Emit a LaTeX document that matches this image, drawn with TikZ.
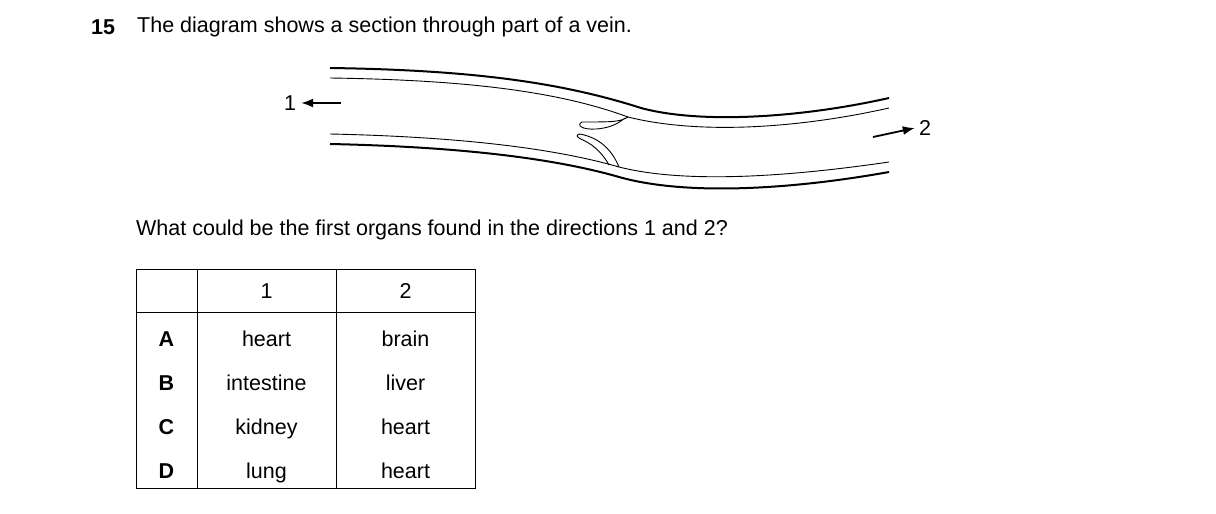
\documentclass[tikz,border=0pt]{standalone}
\usepackage{fontspec}
\setmainfont{Liberation Sans}
\usetikzlibrary{arrows.meta}
\begin{document}
\begin{tikzpicture}[x=1pt,y=-1pt,
  txt/.style={font=\fontsize{21.5}{24}\selectfont,inner sep=0pt},
  outer/.style={line width=2pt},
  inner/.style={line width=0.9pt},
  arr/.style={line width=1.8pt,-{Latex[length=12pt,width=9pt]}}]
\useasboundingbox (0,0) rectangle (1216,514);
\node[txt,anchor=west,font=\fontsize{21.5}{24}\selectfont\bfseries] (num) at (91,27) {15};
\node[txt,anchor=west] (q1) at (137,27) {The diagram shows a section through part of a vein.};
% vein walls
\draw[outer] (330,68) .. controls (470,70) and (560,82) .. (641,108) .. controls (700,124) and (800,118) .. (889,98);
\draw[inner] (330,78) .. controls (470,80) and (560,92) .. (628,117) .. controls (700,135) and (800,128) .. (889,108);
\draw[inner] (330,134) .. controls (470,137) and (560,150) .. (619,167) .. controls (690,185) and (800,175) .. (889,162);
\draw[outer] (330,144) .. controls (470,147) and (560,160) .. (619,177) .. controls (690,197) and (800,188) .. (889,172);
% valve flaps
\draw[inner] (628,117) .. controls (620,122) and (612,122) .. (582,122) .. controls (576,125) and (582,130) .. (596,129) .. controls (612,128) and (620,122) .. (625,118);
\draw[inner] (619,167) .. controls (612,150) and (600,138) .. (580,134) .. controls (574,135) and (578,138) .. (583,140) .. controls (596,146) and (604,156) .. (609,165);
% arrows
\node[txt] (l1) at (290,103) {1};
\coordinate (a1s) at (341,103);
\draw[arr] (a1s) -- ([xshift=5pt]l1.east);
\node[txt] (l2) at (925,128) {2};
\coordinate (a2s) at (873,137);
\draw[arr] (a2s) -- ([xshift=-4pt]l2.west);
\node[txt,anchor=west] (q2) at (136,230) {What could be the first organs found in the directions 1 and 2?};
% table
\draw[line width=0.9pt] (136,269) rectangle (475,488);
\draw[line width=0.9pt] (197,269) -- (197,488) (336,269) -- (336,488) (136,312) -- (475,312);
\node[txt] (h1) at (266.5,291) {1};
\node[txt] (h2) at (405.5,291) {2};
\foreach \l/\a/\b [count=\i] in {A/heart/brain,B/intestine/liver,C/kidney/heart,D/lung/heart}{
  \node[txt,font=\fontsize{21.5}{24}\selectfont\bfseries] (r\i) at (166.5,295+44*\i) {\l};
  \node[txt,anchor=base] (c\i) at (266.5,302+44*\i) {\a};
  \node[txt,anchor=base] (d\i) at (405.5,302+44*\i) {\b};
}
\end{tikzpicture}
\end{document}
